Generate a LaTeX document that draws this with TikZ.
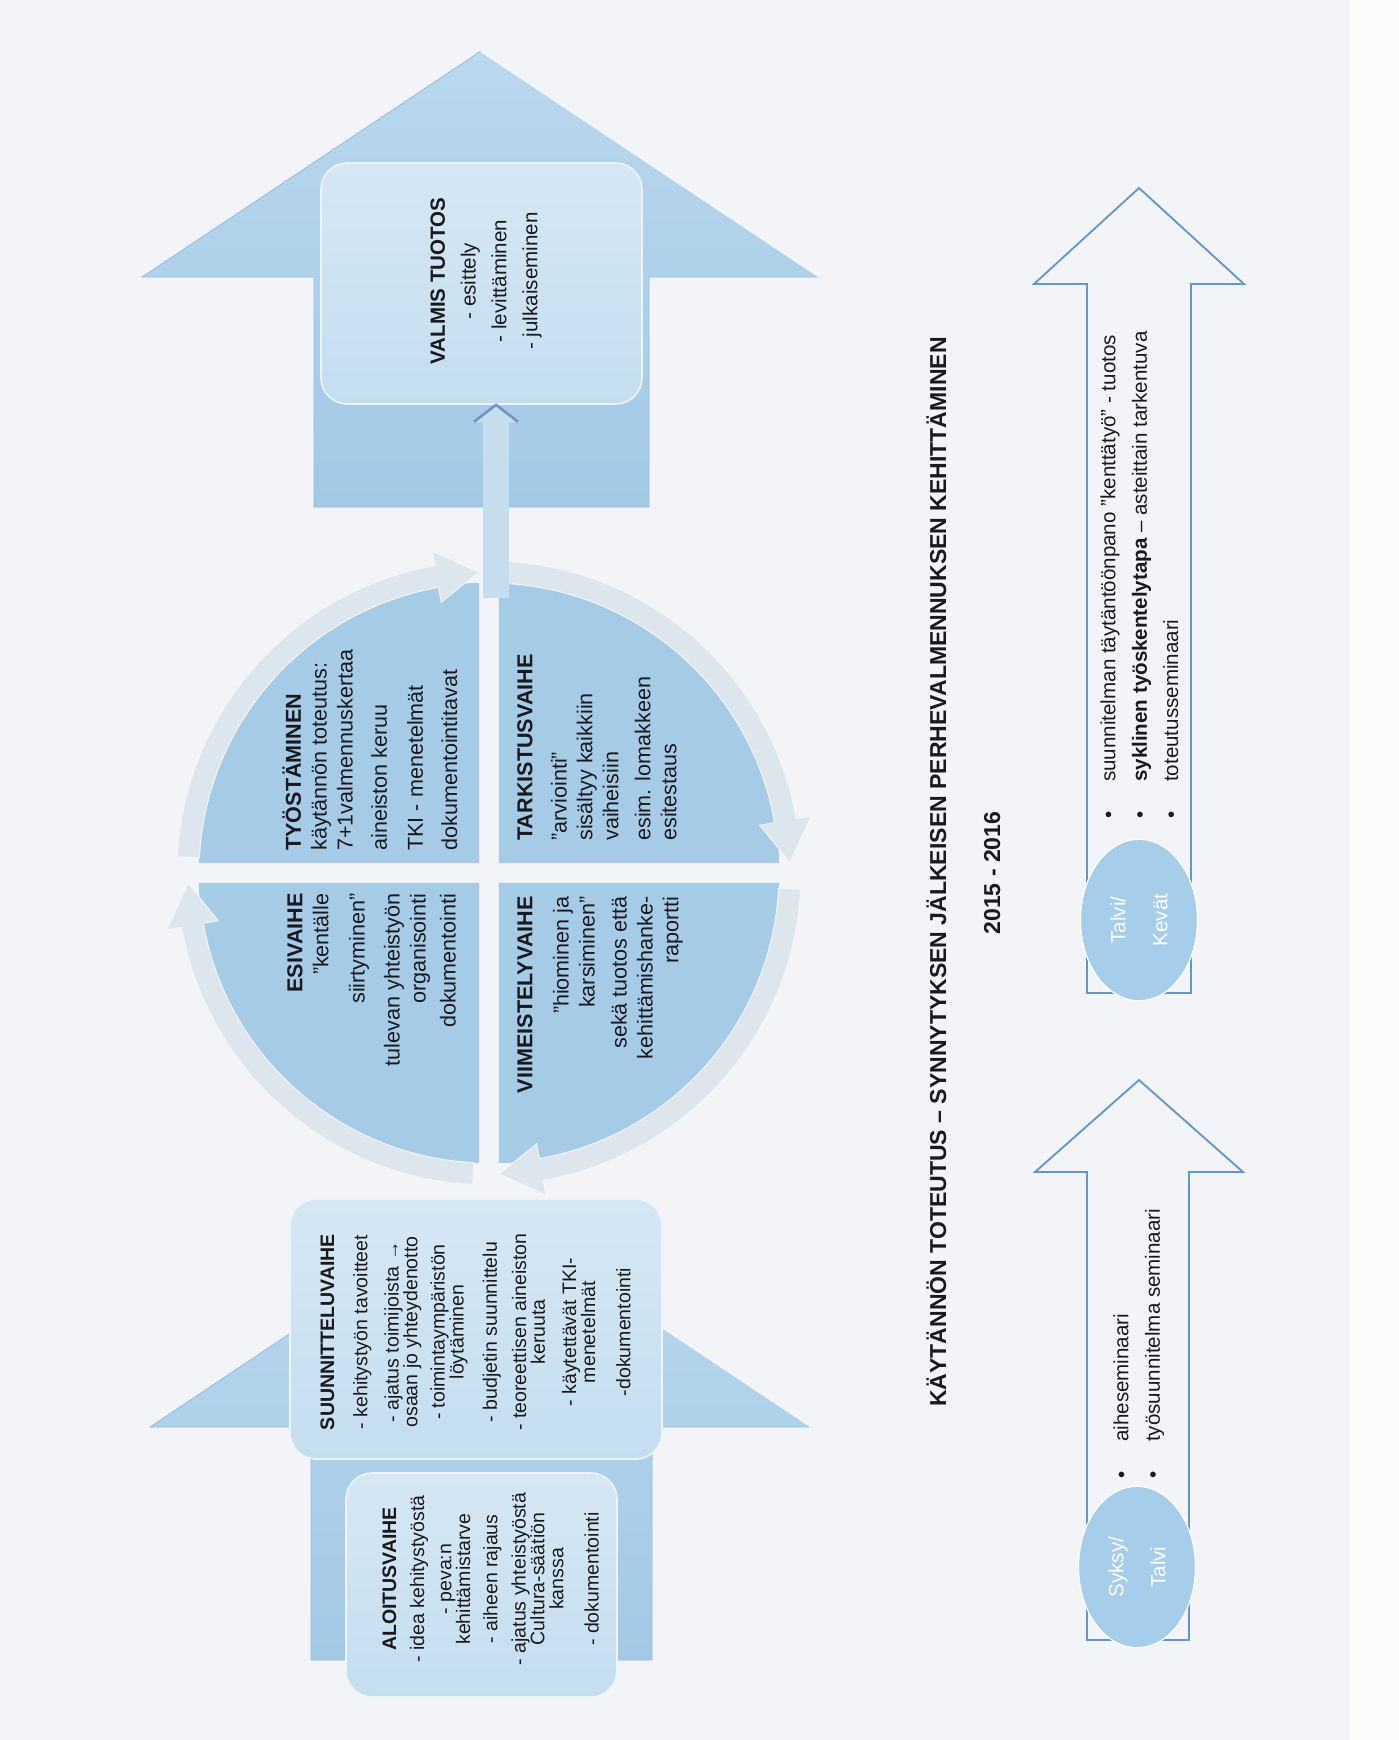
\documentclass[tikz,border=0pt]{standalone}
\usepackage{fontspec}
\setmainfont{Liberation Sans}
\usetikzlibrary{arrows.meta, positioning, calc, fit, shapes.geometric}
\definecolor{cBg}{RGB}{243,244,248}
\definecolor{cStrip}{RGB}{251,251,252}
\definecolor{cArrowTop}{RGB}{186,216,238}
\definecolor{cArrowBot}{RGB}{163,201,230}
\definecolor{cArrowEdge}{RGB}{150,190,222}
\definecolor{cBoxTop}{RGB}{214,231,243}
\definecolor{cBoxBot}{RGB}{196,222,240}
\definecolor{cPie}{RGB}{166,203,231}
\definecolor{cRing}{RGB}{221,229,237}
\definecolor{cSmall}{RGB}{198,221,238}
\definecolor{cEdge}{RGB}{92,128,182}
\definecolor{cLine}{RGB}{98,150,204}
\definecolor{cSeason}{RGB}{166,205,233}
\definecolor{cInk}{RGB}{25,25,30}
\newcommand{\bul}{\makebox[6.3mm][l]{\textbullet}}
\newcommand{\tightlines}{\lineskiplimit=-5pt\lineskip=0pt}
\tikzset{
	bigarrow/.style  ={top color=cArrowTop, bottom color=cArrowBot, draw=cArrowEdge, line width=0.4pt},
	phasebox/.style  ={rectangle, rounded corners=4.5mm, inner sep=0pt, top color=cBoxTop, bottom color=cBoxBot, draw=white!55!cBoxTop, line width=0.8pt},
	phasetext/.style ={rotate=90, inner sep=0pt, align=center, text=cInk, font=\fontsize{9.5}{9.2}\selectfont\tightlines},
	quadtext/.style  ={rotate=90, inner sep=0pt, text=cInk, font=\fontsize{10.5}{12.6}\selectfont},
	pie/.style       ={fill=cPie},
	ringarrow/.style ={fill=cRing, draw=white!60!cRing, line width=0.5pt},
	smallarrow/.style={-{Triangle[width=8mm, length=3mm]}, line width=4.3mm, cSmall},
	outarrow/.style  ={draw=cLine, line width=0.9pt},
	season/.style    ={ellipse, rotate=90, fill=cSeason, draw=white, line width=0.6pt, minimum width=27.6mm, minimum height=20mm, inner sep=0pt, align=center, text=white, font=\fontsize{10}{20.5}\selectfont},
	listtext/.style  ={rotate=90, inner sep=0pt, align=left, text=cInk, font=\fontsize{10}{15.3}\selectfont},
	heading/.style   ={rotate=90, inner sep=0pt, text=cInk, font=\bfseries\fontsize{11.2}{13}\selectfont},
}
\begin{document}
\begin{tikzpicture}[x=0.171mm, y=-0.171mm]
	% paper
	\fill[cBg] (0,0) rectangle (1398,1740);
	\fill[cStrip] (1350,0) rectangle (1398,1740);
	\useasboundingbox (0,0) rectangle (1398,1740);

	% big arrows
	\path[bigarrow] (481,51) -- (820,277) -- (649,277) -- (649,507) -- (314,507) -- (314,277) -- (142,277) -- cycle;
	\draw[white, line width=1.2pt, opacity=0.8] (481,51) -- (820,277);
	\path[bigarrow] (481,1206) -- (812,1427) -- (652,1427) -- (652,1660) -- (311,1660) -- (311,1427) -- (150,1427) -- cycle;
	\draw[white, line width=1.2pt, opacity=0.8] (481,1206) -- (812,1427);

	% phase boxes
	\node[phasebox, fit={(321,163) (642,404)}] (valmis) {};
	\node[phasebox, fit={(290,1199) (662,1459)}] (suunn) {};
	\node[phasebox, fit={(346,1473) (617,1697)}] (aloitus) {};

	% cycle
	\begin{scope}[shift={(489,873)}]
		\foreach \a in {180,270,360,450}
			\fill[pie] (\a+45:14) -- ++(\a:280) arc (\a:\a+90:280) -- cycle;
		\foreach \a in {180,270,360,450}
			\path[ringarrow] (\a+3:312) arc (\a+3:\a+80:312) -- (\a+80:327) -- (\a+88:301) -- (\a+80:275) -- (\a+80:290) arc (\a+80:\a+3:290) -- cycle;
	\end{scope}

	% cycle -> product
	\coordinate (kierto) at (496,598);
	\draw[smallarrow] (kierto) -- (kierto |- valmis.south);
	\draw[cEdge, line width=1.3pt, opacity=0.75] ($(kierto |- valmis.south)+(-22,17)$) -- (kierto |- valmis.south) -- ($(kierto |- valmis.south)+(22,17)$);

	% box texts
	\node[phasetext, anchor=north, font=\fontsize{10}{15}\selectfont] (valmisteksti) at (430,281)
		{\textbf{VALMIS TUOTOS}\\ - esittely\\ - levittäminen\\ - julkaiseminen};
	\node[phasetext, anchor=north] (suunnteksti) at (320,1332)
		{\textbf{SUUNNITTELUVAIHE}\\[7pt] - kehitystyön tavoitteet\\[6pt] - ajatus toimijoista →\\ osaan jo yhteydenotto\\[4pt]
		 - toimintaympäristön\\ löytäminen\\[7pt] - budjetin suunnittelu\\[5pt] - teoreettisen aineiston\\ keruuta\\[6pt]
		 - käytettävät TKI-\\ menetelmät\\[8pt] -dokumentointi};
	\node[phasetext, anchor=north] (aloitusteksti) at (382,1579)
		{\textbf{ALOITUSVAIHE}\\[4.5pt] - idea kehitystyöstä\\[4pt] - peva:n\\ kehittämistarve\\[4pt] - aiheen rajaus\\[4.5pt]
		 - ajatus yhteistyöstä\\ Cultura-säätiön\\ kanssa\\[8pt] - dokumentointi};

	% quadrant texts
	\node[quadtext, align=left, anchor=north west] (tyo) at (282,851)
		{\textbf{TYÖSTÄMINEN}\\ käytännön toteutus:\\ 7+1valmennuskertaa\\[4pt] aineiston keruu\\[5pt] TKI - menetelmät\\[4pt] dokumentointitavat};
	\node[quadtext, align=left, anchor=north west] (tark) at (517,841)
		{\textbf{TARKISTUSVAIHE}\\[4pt] "arviointi"\\ sisältyy kaikkiin\\ vaiheisiin\\[3pt] esim. lomakkeen\\ esitestaus};
	\node[quadtext, align=right, anchor=north east] (esi) at (287,893)
		{\textbf{ESIVAIHE}\\ "kentälle\\[5pt] siirtyminen"\\[4.5pt] tulevan yhteistyön\\ organisointi\\[2pt] dokumentointi};
	\node[quadtext, align=right, anchor=north east] (viim) at (517,896)
		{\textbf{VIIMEISTELYVAIHE}\\[5pt] "hiominen ja\\ karsiminen"\\[3pt] sekä tuotos että\\ kehittämishanke-\\ raportti};

	% heading
	\node[heading, anchor=base] (otsikko) at (946,872)
		{KÄYTÄNNÖN TOTEUTUS – SYNNYTYKSEN JÄLKEISEN PERHEVALMENNUKSEN KEHITTÄMINEN};
	\node[heading, anchor=base] (vuodet) at (1000,873) {2015 - 2016};

	% time line arrows
	\draw[outarrow] (1139,188) -- (1244,284) -- (1191,284) -- (1191,993) -- (1087,993) -- (1087,284) -- (1034,284) -- cycle;
	\draw[outarrow] (1139,1080) -- (1243,1172) -- (1189,1172) -- (1189,1640) -- (1087,1640) -- (1087,1172) -- (1035,1172) -- cycle;
	\node[season] (talvi) at (1139,920) {Talvi/\\Kevät};
	\node[season] (syksy) at (1137,1567) {Syksy/\\Talvi};
	\node[listtext, anchor=north west] (lista2) at (1100,819)
		{\bul suunnitelman täytäntöönpano "kenttätyö" - tuotos\\ \bul \textbf{syklinen työskentelytapa} – asteittain tarkentuva\\ \bul toteutusseminaari};
	\node[listtext, anchor=north west] (lista1) at (1113,1479)
		{\bul aiheseminaari\\ \bul työsuunnitelma seminaari};
\end{tikzpicture}
\end{document}
